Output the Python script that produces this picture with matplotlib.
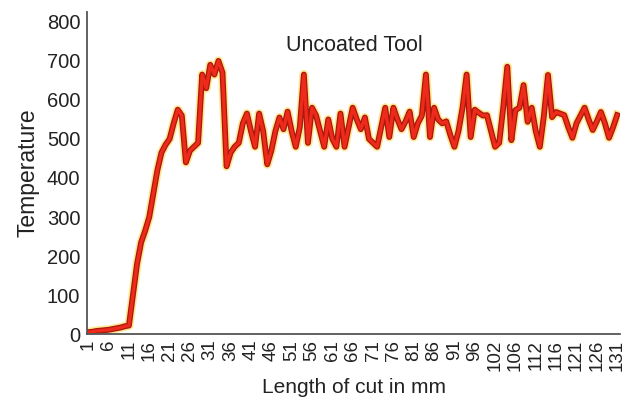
import matplotlib
matplotlib.use("Agg")
import matplotlib.pyplot as plt

# longitud de corte (1..131) y temperatura
longitud = list(range(1, 132))
temperatura = [
    5, 6, 8, 9, 10, 11, 13, 15, 17, 20,
    22, 100, 180, 235, 265, 300, 360, 420, 465, 485,
    500, 540, 575, 560, 440, 470, 480, 490, 665, 630,
    690, 665, 700, 670, 430, 465, 480, 490, 540, 565,
    520, 480, 565, 520, 435, 470, 520, 555, 525, 570,
    520, 480, 530, 665, 490, 580, 560, 520, 480, 550,
    500, 480, 565, 480, 530, 580, 550, 525, 555, 500,
    490, 480, 530, 580, 505, 580, 550, 525, 545, 570,
    505, 540, 560, 665, 505, 580, 550, 540, 545, 510,
    480, 520, 580, 665, 505, 575, 567, 560, 561, 520,
    480, 490, 580, 685, 497, 574, 580, 638, 544, 580,
    520, 480, 560, 664, 556, 569, 565, 561, 530, 503,
    540, 560, 580, 550, 523, 545, 569, 540, 503, 530,
    561,
]

tick_pos = list(range(1, 132, 5))
tick_labels = ["1", "6", "11", "16", "21", "26", "31", "36", "41", "46",
               "51", "56", "61", "66", "71", "76", "81", "86", "91", "96",
               "102", "106", "112", "116", "121", "126", "131"]

plt.rcParams['font.family'] = ['Liberation Sans', 'DejaVu Sans']

fig = plt.figure(figsize=(6.32, 4.04), dpi=100)
ax = fig.add_axes([0.138, 0.173, 0.843, 0.797])

# linea con halo amarillo, borde oscuro y nucleo rojo
ax.plot(longitud, temperatura, color='#ffe27a', lw=6.5, alpha=0.8, solid_joinstyle='round')
ax.plot(longitud, temperatura, color='#a8180e', lw=4.2, solid_joinstyle='round')
ax.plot(longitud, temperatura, color='#ee2a1a', lw=2.4, solid_joinstyle='round')

ax.set_xlim(0.75, 131.7)
ax.set_ylim(0, 825)
ax.set_yticks(range(0, 801, 100))
ax.set_xticks(tick_pos)
ax.set_xticklabels(tick_labels, rotation=90)
ax.tick_params(axis='both', length=0, colors='#222222')
ax.tick_params(axis='y', labelsize=14.5, pad=5)
ax.tick_params(axis='x', labelsize=13.5, pad=4)

for s in ['top', 'right']:
    ax.spines[s].set_visible(False)
for s in ['left', 'bottom']:
    ax.spines[s].set_color('#555555')
    ax.spines[s].set_linewidth(1.3)

ax.set_xlabel('Length of cut in mm', fontsize=15, color='#222222', labelpad=5)
ax.set_ylabel('Temperature', fontsize=16.5, color='#222222', labelpad=5)
ax.text(0.502, 0.895, 'Uncoated Tool', transform=ax.transAxes, ha='center', va='center',
        fontsize=15.5, color='#222222')

fig.savefig('out.png', dpi=100, facecolor='white')
